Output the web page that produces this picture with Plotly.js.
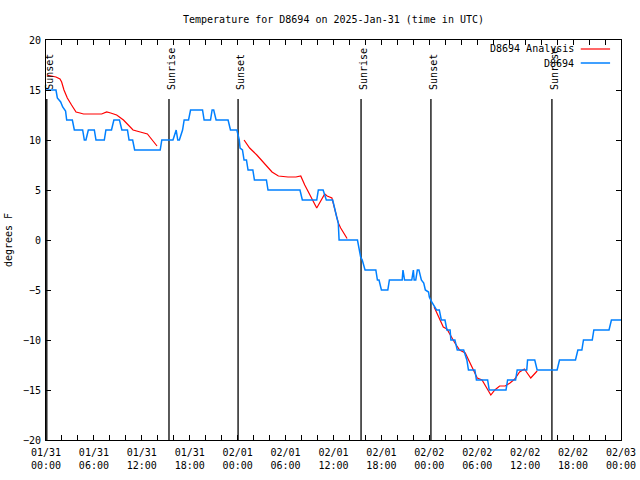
<!DOCTYPE html>
<html>
<head>
<meta charset="utf-8">
<script src="https://cdn.plot.ly/plotly-3.0.1.min.js"></script>
<style>html,body{margin:0;padding:0;background:#fff;}#chart{width:640px;height:480px;}</style>
</head>
<body>
<div id="chart"></div>
<script>
// Hours after 2025-01-31 00:00 UTC
const obsHours = [0.0,1.25,1.42,1.6,1.84,2.09,2.38,2.45,2.59,3.3,3.55,4.59,4.8,5.0,5.3,6.05,6.26,7.3,7.5,8.2,8.5,9.2,9.5,10.2,10.4,10.85,11.1,14.3,14.5,15.9,16.3,16.5,16.7,17.1,17.3,17.85,18.1,19.6,19.8,20.6,20.8,21.0,21.3,22.8,23.1,23.9,24.2,24.3,24.6,24.8,25.1,25.3,25.9,26.1,27.6,27.8,31.8,32.1,33.9,34.1,34.7,35.1,35.9,36.1,36.4,36.6,36.7,39.0,39.2,39.4,39.6,39.95,41.3,41.5,41.7,42.0,42.8,43.0,44.6,44.7,44.9,45.8,46.0,46.1,46.3,46.5,46.7,47.0,47.3,47.5,47.9,48.0,48.3,48.7,48.9,49.25,49.5,49.96,50.2,50.6,50.7,51.2,51.5,52.3,52.5,52.7,52.9,53.7,53.9,55.3,55.5,57.6,57.8,58.8,59.0,60.2,60.3,61.2,61.5,64.0,64.3,66.3,66.6,67.1,67.3,68.4,68.6,70.5,70.8,72.0];
const obsTemps = [15,15,14.2,14,13.8,13.3,13,12.9,12,12,11,11,10,10,11,11,10,10,11,11,12,12,11,11,10,10,9,9,10,10,11,10,10,11,12,12,13,13,12,12,13,13,12,12,11,11,10,9.2,9,8,8,7,7,6,6,5,5,4,4,5,5,4,4,3.2,2.3,1.7,0,0,-0.8,-1.7,-2,-3,-3,-4,-4,-5,-5,-4,-4,-3,-4,-4,-3,-4,-4,-3,-3,-4,-4.3,-5,-5.2,-5.7,-6.2,-6.7,-7,-7,-8,-8,-9,-9,-10,-10,-11,-11,-11.5,-12,-13,-13,-14,-14,-15,-15,-14,-14,-13,-13,-12,-12,-13,-13,-12,-12,-11,-11,-10,-10,-9,-9,-8,-8];

const anaHours = [0.1,0.7,1.25,1.75,1.96,2.25,2.67,3.2,3.76,4.26,4.7,6.97,7.6,8.1,8.85,9.7,10.3,10.9,11.8,12.7,13.0,13.5,13.9,null,
  24.8,25.5,26.4,27.4,28.3,29.1,30.3,31.3,31.9,32.4,33.9,34.9,35.2,35.8,36.1,36.4,36.6,36.9,37.3,37.7,null,
  48.6,49.3,49.75,50.2,50.6,51.2,51.8,52.5,53.1,53.7,54.0,54.6,55.1,55.7,56.2,56.8,57.5,58.1,58.7,59.3,59.9,60.7,61.5];
const anaTemps = [16.5,16.4,16.3,16.1,15.8,15,14.2,13.5,12.8,12.7,12.6,12.6,12.8,12.7,12.5,12,11.5,11,10.8,10.6,10.3,9.8,9.4,null,
  10,9.2,8.5,7.6,6.8,6.4,6.3,6.3,6.4,5.5,3.2,4.6,4.4,4.2,3.2,2.3,1.7,1.2,0.7,0.15,null,
  -6.7,-8,-8.7,-8.9,-9.5,-10.3,-11,-11.3,-12.3,-13.3,-13.8,-14,-14.7,-15.5,-15,-14.6,-14.6,-14.3,-13.9,-13.2,-12.9,-13.8,-13.1];

const sunHours = [0.1, 15.4, 24.05, 39.45, 48.2, 63.35];
const sunLabels = ['Sunset','Sunrise','Sunset','Sunrise','Sunset','Sunrise'];

const tickHours = [0,6,12,18,24,30,36,42,48,54,60,66,72];
const tickLabels = ['01/31<br>00:00','01/31<br>06:00','01/31<br>12:00','01/31<br>18:00','02/01<br>00:00','02/01<br>06:00','02/01<br>12:00','02/01<br>18:00','02/02<br>00:00','02/02<br>06:00','02/02<br>12:00','02/02<br>18:00','02/03<br>00:00'];

const seriesNames = ['D8694 Analysis','D8694'];
const seriesColors = ['#ff0000','#0080ff'];

const BASE = Date.UTC(2025,0,31,0,0,0);
function toDate(h){
  if(h===null) return null;
  return new Date(BASE + h*3600000).toISOString().slice(0,19).replace('T',' ');
}

const FONT = 'DejaVu Sans Mono, Liberation Mono, monospace';

const sunX = [], sunY = [];
sunHours.forEach(h => { sunX.push(toDate(h), toDate(h), null); sunY.push(14.1, -20, null); });

const traces = [
  {x: sunX, y: sunY, mode:'lines', line:{color:'#000', width:1.3}, hoverinfo:'skip', showlegend:false},
  {x: anaHours.map(toDate), y: anaTemps, mode:'lines', name: seriesNames[0], line:{color:seriesColors[0], width:1.2}, connectgaps:false, showlegend:false},
  {x: obsHours.map(toDate), y: obsTemps, mode:'lines', name: seriesNames[1], line:{color:seriesColors[1], width:1.5}, showlegend:false}
];

const annotations = sunHours.map((h,i) => ({
  x: toDate(h), y: 14.8, xref:'x', yref:'y', text: sunLabels[i], textangle:-90,
  showarrow:false, xanchor:'center', yanchor:'bottom', xshift:2,
  font:{family:FONT, size:10, color:'#000'}
}));

// manual legend (text right, sample line at right)
const legY = [0.9775, 0.9425];
seriesNames.forEach((n,i) => {
  annotations.push({x:0.921, y:legY[i], xref:'paper', yref:'paper', text:n, showarrow:false,
    xanchor:'right', yanchor:'middle', font:{family:FONT, size:10, color:'#000'}});
});
const shapes = seriesNames.map((n,i) => ({
  type:'line', xref:'paper', yref:'paper', x0:0.930, x1:0.981, y0:legY[i], y1:legY[i],
  line:{color:seriesColors[i], width: i===0?1.2:1.5}
}));

const layout = {
  width:640, height:480,
  margin:{l:46, r:19, t:40, b:40},
  paper_bgcolor:'#fff', plot_bgcolor:'#fff',
  font:{family:FONT, size:10, color:'#000'},
  title:{text:'Temperature for D8694 on 2025-Jan-31 (time in UTC)', x:0.5, xref:'paper', y:1-19/480, yref:'container', yanchor:'middle',
    font:{family:FONT, size:10, color:'#000'}},
  xaxis:{type:'date', range:[toDate(0), toDate(72)], tickvals: tickHours.map(toDate), ticktext: tickLabels,
    ticks:'inside', ticklen:5, tickcolor:'#000', showline:true, linecolor:'#000', linewidth:1, mirror:'ticks',
    showgrid:false, zeroline:false, ticklabelstandoff:3, tickfont:{family:FONT, size:10, color:'#000'},
    minor:{dtick: 2*3600000, ticks:'inside', ticklen:5, tickcolor:'#000', showgrid:false}},
  yaxis:{range:[-20,20], dtick:5, tick0:0, ticks:'inside', ticklen:5, tickcolor:'#000', showline:true, linecolor:'#000', linewidth:1,
    mirror:'ticks', showgrid:false, zeroline:false, ticklabelstandoff:2, tickfont:{family:FONT, size:10, color:'#000'},
    title:{text:'degrees F', standoff:8, font:{family:FONT, size:10, color:'#000'}}},
  annotations: annotations,
  shapes: shapes,
  showlegend:false
};

Plotly.newPlot('chart', traces, layout, {staticPlot:true, displayModeBar:false});
</script>
</body>
</html>
